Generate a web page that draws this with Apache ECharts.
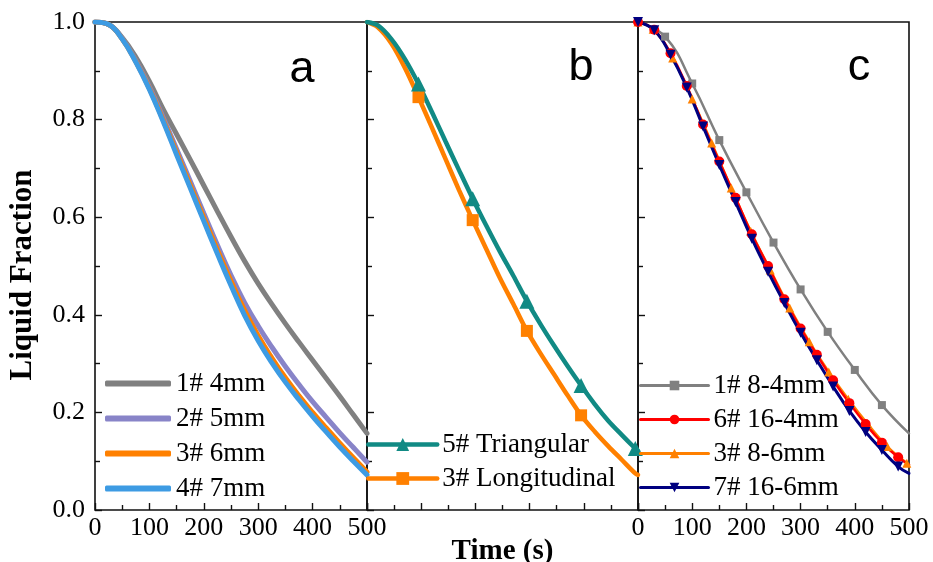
<!DOCTYPE html>
<html><head><meta charset="utf-8">
<script src="https://cdn.jsdelivr.net/npm/echarts@6/dist/echarts.min.js"></script>
<style>html,body{margin:0;padding:0;background:#fff}#c{width:933px;height:562px}</style>
</head><body><div id="c"></div>
<script>
// ---- Panel a data ----
const timeA = [0,25,50,75,100,125,150,175,200,225,250,275,300,325,350,375,400,425,450,475,500];
const a1_4mm = [1.0,0.995,0.968,0.928,0.878,0.822,0.77,0.718,0.665,0.612,0.56,0.51,0.464,0.422,0.382,0.344,0.307,0.27,0.233,0.195,0.157];
const a2_5mm = [1.0,0.995,0.966,0.921,0.867,0.805,0.74,0.674,0.608,0.543,0.481,0.425,0.377,0.334,0.294,0.257,0.222,0.19,0.158,0.128,0.098];
const a3_6mm = [1.0,0.995,0.965,0.919,0.864,0.8,0.733,0.666,0.599,0.533,0.469,0.409,0.357,0.312,0.271,0.234,0.2,0.168,0.137,0.107,0.078];
const a4_7mm = [1.0,0.995,0.965,0.918,0.862,0.797,0.728,0.66,0.592,0.525,0.46,0.399,0.347,0.302,0.262,0.226,0.192,0.16,0.129,0.1,0.072];
// ---- Panel b data ----
const timeB = [0,20,45,70,95,120,145,170,195,220,245,270,295,320,345,370,395,420,445,470,495,500];
const b5_tri = [1.0,0.993,0.965,0.924,0.873,0.815,0.755,0.696,0.638,0.583,0.53,0.48,0.428,0.381,0.337,0.295,0.255,0.217,0.183,0.154,0.126,0.121];
const b3_long = [1.0,0.989,0.956,0.906,0.846,0.783,0.719,0.655,0.594,0.535,0.476,0.422,0.367,0.321,0.278,0.235,0.194,0.161,0.131,0.103,0.075,0.072];
const markB_tri = [95,195,295,395,495];
const markB_long = [95,195,295,395];
// ---- Panel c data ----
const timeC1 = [0,50,100,150,200,250,300,350,400,450,500];
const c1_8_4 = [1.0,0.97,0.874,0.758,0.651,0.548,0.452,0.365,0.287,0.215,0.157];
const markC1 = [0,50,100,150,200,250,300,350,400,450];
const timeC67 = [0,30,60,90,120,150,180,210,240,270,300,330,360,390,420,450,480,500];
const c6_16_4 = [1.0,0.984,0.936,0.869,0.79,0.714,0.64,0.565,0.5,0.432,0.372,0.318,0.266,0.219,0.176,0.138,0.108,0.093];
const c7_16_6 = [1.0,0.983,0.933,0.866,0.786,0.707,0.631,0.556,0.488,0.424,0.363,0.307,0.253,0.203,0.16,0.123,0.089,0.075];
const markC67 = [0,30,60,90,120,150,180,210,240,270,300,330,360,390,420,450,480];
const timeC3 = [0,28,64,100,136,172,208,244,280,316,352,388,424,460,496,500];
const c3_8_6 = [1.0,0.985,0.926,0.842,0.752,0.66,0.571,0.492,0.414,0.345,0.283,0.227,0.176,0.13,0.096,0.092];
const markC3 = [0,28,64,100,136,172,208,244,280,316,352,388,424,460,496];

const SERIF = 'Liberation Serif';
function pts(times, vals, marks) {
  return times.map((t, i) => {
    const item = { value: [t, vals[i]] };
    if (!marks || marks.indexOf(t) < 0) item.symbol = 'none';
    return item;
  });
}
const chart = echarts.init(document.getElementById('c'), null, { renderer: 'canvas' });
const grids = [
  { left: 95, top: 22, width: 272, height: 488 },
  { left: 367, top: 22, width: 271, height: 488 },
  { left: 638, top: 22, width: 271, height: 488 }
].map(g => Object.assign(g, { show: true, containLabel: false, outerBoundsMode: 'none', borderColor: '#111', borderWidth: 1.6, backgroundColor: 'transparent' }));
const tickStyle = { color: '#111', width: 1.4 };
const xAxes = [0, 1, 2].map(i => ({
  type: 'value', gridIndex: i, min: 0, max: 500, interval: 100,
  axisLine: { show: false },
  axisTick: { show: true, inside: true, length: 7, lineStyle: tickStyle },
  minorTick: { show: true, splitNumber: 2, length: 5, lineStyle: tickStyle },
  splitLine: { show: false }, minorSplitLine: { show: false },
  axisLabel: { show: i !== 1, showMinLabel: true, showMaxLabel: true, margin: 5, fontFamily: SERIF, fontSize: 26, color: '#000' },
  name: i === 1 ? 'Time (s)' : '', nameLocation: 'middle', nameGap: 27,
  nameTextStyle: { fontFamily: SERIF, fontWeight: 'bold', fontSize: 29, color: '#000' }
}));
const yAxes = [0, 1, 2].map(i => ({
  type: 'value', gridIndex: i, min: 0, max: 1, interval: 0.2,
  axisLine: { show: false },
  axisTick: { show: true, inside: true, length: 7, lineStyle: tickStyle },
  minorTick: { show: true, splitNumber: 2, length: 5, lineStyle: tickStyle },
  splitLine: { show: false }, minorSplitLine: { show: false },
  axisLabel: { show: i === 0, margin: 10, fontFamily: SERIF, fontSize: 26, color: '#000', formatter: v => v.toFixed(1) },
  name: i === 0 ? 'Liquid Fraction' : '', nameLocation: 'middle', nameRotate: 90, nameGap: 57,
  nameTextStyle: { fontFamily: SERIF, fontWeight: 'bold', fontSize: 31, color: '#000', padding: [0, 18, 0, 0] }
}));
function lineS(name, idx, times, vals, color, width, opts) {
  return Object.assign({
    name: name, type: 'line', xAxisIndex: idx, yAxisIndex: idx,
    data: pts(times, vals, opts && opts.marks),
    smooth: 0.45,
    symbol: 'none', showSymbol: true,
    lineStyle: { color: color, width: width, cap: 'round' },
    itemStyle: { color: color },
    emphasis: { disabled: true }, animation: false
  }, opts && opts.extra);
}
const series = [
  lineS('1# 4mm', 0, timeA, a1_4mm, '#808080', 5),
  lineS('2# 5mm', 0, timeA, a2_5mm, '#8884c8', 5),
  lineS('3# 6mm', 0, timeA, a3_6mm, '#ff8000', 5),
  lineS('4# 7mm', 0, timeA, a4_7mm, '#3d9be3', 5),
  lineS('3# Longitudinal', 1, timeB, b3_long, '#ff8000', 4.5, { marks: markB_long, extra: { symbol: 'rect', symbolSize: 12, smooth: 0.3 } }),
  lineS('5# Triangular', 1, timeB, b5_tri, '#118a84', 4.5, { marks: markB_tri, extra: { symbol: 'triangle', symbolSize: 15, smooth: 0.3 } }),
  lineS('1# 8-4mm', 2, timeC1, c1_8_4, '#808080', 2.5, { marks: markC1, extra: { symbol: 'rect', symbolSize: 8 } }),
  lineS('3# 8-6mm', 2, timeC3, c3_8_6, '#ff8000', 2.5, { marks: markC3, extra: { symbol: 'triangle', symbolSize: 9 } }),
  lineS('6# 16-4mm', 2, timeC67, c6_16_4, '#ff0000', 2.5, { marks: markC67, extra: { symbol: 'circle', symbolSize: 10 } }),
  lineS('7# 16-6mm', 2, timeC67, c7_16_6, '#000080', 3, { marks: markC67, extra: { symbol: 'triangle', symbolRotate: 180, symbolSize: 10 } })
];
const legText = { fontFamily: SERIF, fontSize: 27, color: '#000' };
const legends = [
  { data: ['1# 4mm', '2# 5mm', '3# 6mm', '4# 7mm'].map(n => ({ name: n, icon: 'roundRect' })), left: 105, top: 370, itemWidth: 66, itemHeight: 6, itemGap: 8 },
  { data: ['5# Triangular', '3# Longitudinal'], left: 366, top: 431, itemWidth: 69, itemHeight: 16, itemGap: 7, lineStyle: { width: 4.5 } },
  { data: ['1# 8-4mm', '6# 16-4mm', '3# 8-6mm', '7# 16-6mm'], left: 639, top: 372, itemWidth: 68, itemHeight: 12, itemGap: 7, lineStyle: { width: 3 } }
].map(l => Object.assign(l, { orient: 'vertical', textStyle: legText, selectedMode: false, padding: 0 }));
const letters = [['a', 302, 70], ['b', 581, 68], ['c', 859, 68]].map(([t, x, y]) => ({
  type: 'text', style: { text: t, x: x, y: y, textAlign: 'center', textVerticalAlign: 'middle', fontFamily: 'Liberation Sans', fontSize: 45, fill: '#000' }
}));
chart.setOption({
  animation: false,
  backgroundColor: '#fff',
  grid: grids, xAxis: xAxes, yAxis: yAxes, series: series, legend: legends, graphic: letters
});
</script></body></html>
